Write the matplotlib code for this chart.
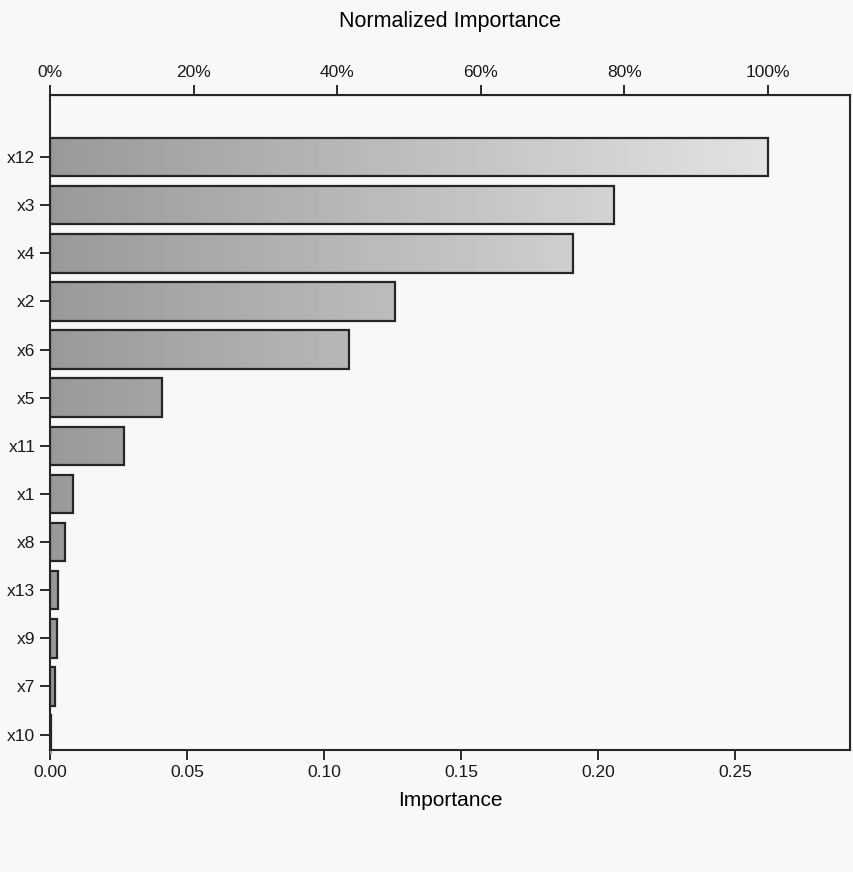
#!/usr/bin/env python
"""Normalized importance bar chart (SPSS-style independent variable importance)."""

import matplotlib
matplotlib.use("Agg")
import matplotlib.pyplot as plt
from matplotlib.ticker import FixedLocator, FormatStrFormatter
import numpy as np

VARIABLES = ["x12", "x3", "x4", "x2", "x6", "x5", "x11", "x1", "x8", "x13", "x9", "x7", "x10"]
IMPORTANCE = [0.262, 0.206, 0.191, 0.126, 0.109, 0.041, 0.027, 0.0084, 0.0055, 0.003, 0.0024, 0.002, 0.0005]
BOTTOM_TICKS = [0.00, 0.05, 0.10, 0.15, 0.20, 0.25]
TOP_TICKS = [0, 20, 40, 60, 80, 100]

plt.rcParams.update(
    {
        "font.family": ["Liberation Sans Narrow", "Liberation Sans", "DejaVu Sans"],
        "font.size": 12,
        "axes.edgecolor": "0.15",
        "xtick.color": "0.1",
        "ytick.color": "0.1",
    }
)

fig = plt.figure(figsize=(8.54, 8.72), dpi=100, facecolor="#f8f8f8")
ax = fig.add_axes([0.0585, 0.14, 0.937, 0.751])
ax.set_facecolor("#f8f8f8")

y = np.arange(len(VARIABLES))
xmax = 0.292
bars = ax.barh(y, IMPORTANCE, height=0.8, color="none", edgecolor="0.15", linewidth=1.6, zorder=3)

# grey fill, darker near the axis and fading to the right
grad = np.linspace(0.6, 0.92, 256).reshape(1, -1)
for bar in bars:
    im = ax.imshow(
        grad,
        extent=[0, xmax, bar.get_y() + bar.get_height(), bar.get_y()],
        cmap="gray",
        vmin=0,
        vmax=1,
        aspect="auto",
        zorder=2,
    )
    im.set_clip_path(bar)

ax.set_xlim(0, xmax)
ax.set_ylim(12.32, -1.29)
ax.set_yticks(y)
ax.set_yticklabels(VARIABLES)
ax.xaxis.set_major_locator(FixedLocator(BOTTOM_TICKS))
ax.xaxis.set_major_formatter(FormatStrFormatter("%.2f"))
ax.tick_params(axis="both", length=7, width=1.3, labelsize=12.5)
ax.set_xlabel("Importance", fontsize=15, labelpad=8)
for side in ["left", "bottom", "top", "right"]:
    ax.spines[side].set_linewidth(1.5)

max_imp = max(IMPORTANCE)
top = ax.secondary_xaxis("top", functions=(lambda v: v / max_imp * 100, lambda p: p * max_imp / 100))
top.set_xticks(TOP_TICKS)
top.set_xticklabels([f"{t}%" for t in TOP_TICKS])
top.tick_params(length=7, width=1.3, labelsize=12.5)
top.set_xlabel("Normalized Importance", fontsize=15.5, labelpad=28)

fig.savefig("out.png", dpi=100, facecolor=fig.get_facecolor())
